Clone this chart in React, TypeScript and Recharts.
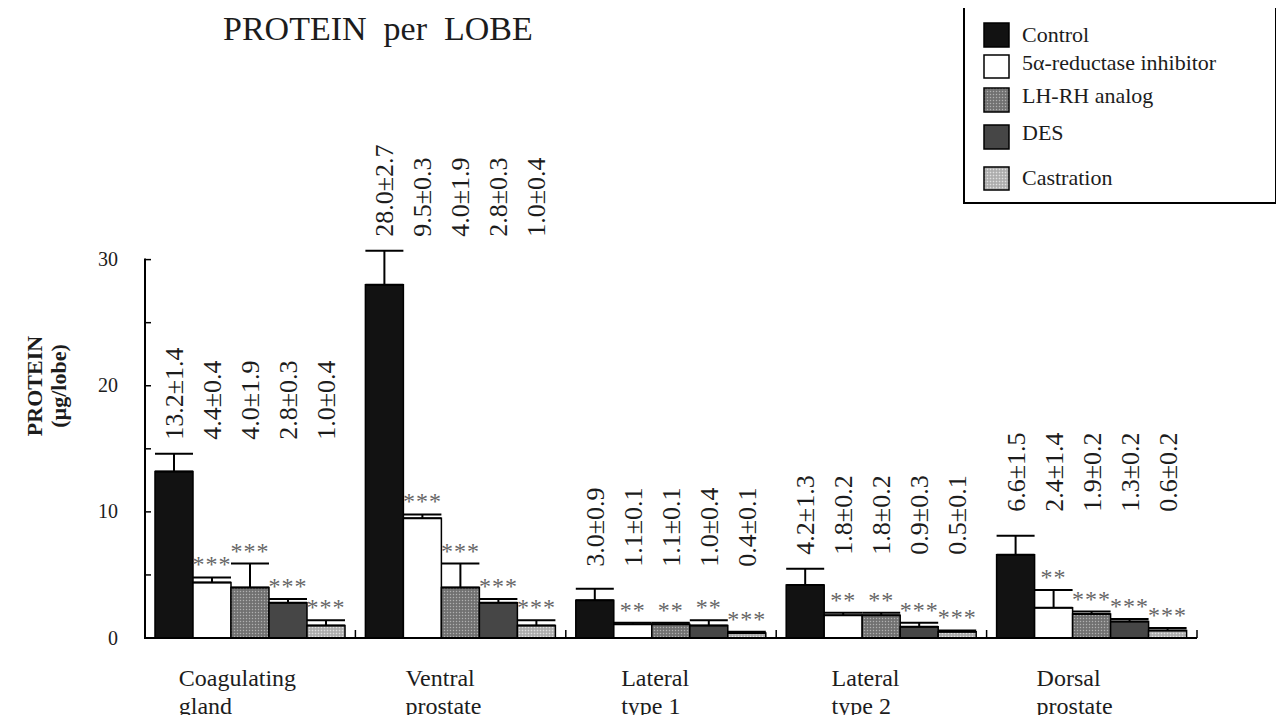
import { BarChart, Bar, XAxis, YAxis, ErrorBar, LabelList } from "recharts";

const LOBES = ["Coagulating gland", "Ventral prostate", "Lateral type 1", "Lateral type 2", "Dorsal prostate"];

const CONTROL = [13.2, 28.0, 3.0, 4.2, 6.6];
const CONTROL_SEM = [1.4, 2.7, 0.9, 1.3, 1.5];
const REDUCTASE = [4.4, 9.5, 1.1, 1.8, 2.4];
const REDUCTASE_SEM = [0.4, 0.3, 0.1, 0.2, 1.4];
const LHRH = [4.0, 4.0, 1.1, 1.8, 1.9];
const LHRH_SEM = [1.9, 1.9, 0.1, 0.2, 0.2];
const DES = [2.8, 2.8, 1.0, 0.9, 1.3];
const DES_SEM = [0.3, 0.3, 0.4, 0.3, 0.2];
const CASTRATION = [1.0, 1.0, 0.4, 0.5, 0.6];
const CASTRATION_SEM = [0.4, 0.4, 0.1, 0.1, 0.2];

// significance vs control
const REDUCTASE_SIG = ["***", "***", "**", "**", "**"];
const LHRH_SIG = ["***", "***", "**", "**", "***"];
const DES_SIG = ["***", "***", "**", "***", "***"];
const CASTRATION_SIG = ["***", "***", "***", "***", "***"];

const Y_TICKS = [0, 5, 10, 15, 20, 25, 30];
const Y_TOP = 31; // room for the ventral control error bar above 30

const FONT = "'Liberation Serif', 'Times New Roman', serif";
const INK = "#1c1c1c";

interface Series {
  key: string;
  name: string;
  values: number[];
  sem: number[];
  sig: string[] | null;
  fill: string;
}

const SERIES: Series[] = [
  { key: "control", name: "Control", values: CONTROL, sem: CONTROL_SEM, sig: null, fill: "#121212" },
  { key: "reductase", name: "5\u03b1-reductase inhibitor", values: REDUCTASE, sem: REDUCTASE_SEM, sig: REDUCTASE_SIG, fill: "#ffffff" },
  { key: "lhrh", name: "LH-RH analog", values: LHRH, sem: LHRH_SEM, sig: LHRH_SIG, fill: "url(#dotsMid)" },
  { key: "des", name: "DES", values: DES, sem: DES_SEM, sig: DES_SIG, fill: "#464646" },
  { key: "castration", name: "Castration", values: CASTRATION, sem: CASTRATION_SEM, sig: CASTRATION_SIG, fill: "url(#dotsLight)" },
];

const data = LOBES.map((lobe, i) => {
  const row: Record<string, any> = { lobe };
  SERIES.forEach((s) => {
    row[s.key] = s.values[i];
    row[s.key + "Err"] = [0, s.sem[i]];
    row[s.key + "Txt"] = `${s.values[i].toFixed(1)}\u00b1${s.sem[i].toFixed(1)}`;
    row[s.key + "Sig"] = s.sig ? s.sig[i] : "";
  });
  return row;
});

// gap (px) between the control error cap and the foot of the printed values
const LABEL_GAP = [14, 14, 22, 14, 24];

function valueLabel(s: Series) {
  return (props: any) => {
    const { x, y, width, height, index, value } = props;
    const px = height / s.values[index];
    const zeroY = y + height;
    const ctrlTop = zeroY - (CONTROL[index] + CONTROL_SEM[index]) * px;
    const baseY = ctrlTop - LABEL_GAP[index];
    const tx = x + width / 2 + 9;
    return (
      <text x={tx} y={baseY} transform={`rotate(-90 ${tx} ${baseY})`} fontFamily={FONT} fontSize={26} fill={INK}>
        {value}
      </text>
    );
  };
}

function sigLabel(s: Series) {
  return (props: any) => {
    const { x, y, width, height, index, value } = props;
    if (!value) return null;
    const px = height / s.values[index];
    const capY = y + height - (s.values[index] + s.sem[index]) * px;
    return (
      <text x={x + width / 2} y={capY - 5} textAnchor="middle" fontFamily={FONT} fontSize={24} fill="#666" letterSpacing={1}>
        {value}
      </text>
    );
  };
}

function LobeTick(props: any) {
  const { x, y, payload } = props;
  const half = payload.offset ?? 105;
  const [first, ...rest] = String(payload.value).split(" ");
  const second = rest.join(" ");
  const w = Math.max(first.length, second.length) * 0.45 * 24;
  const left = x - w / 2 - 12;
  return (
    <g>
      <line x1={x + half} x2={x + half} y1={y} y2={y - 8} stroke="#000" strokeWidth={1.5} />
      <text x={left} y={y + 48} fontFamily={FONT} fontSize={24} fill={INK}>{first}</text>
      <text x={left} y={y + 76} fontFamily={FONT} fontSize={24} fill={INK}>{second}</text>
    </g>
  );
}

// inward ticks; the axis line itself stops at the 30 tick
function ProteinTick(props: any) {
  const { x, y, payload, height } = props;
  const step = ((height ?? 391) / Y_TOP) * 5;
  return (
    <g>
      <line x1={x} x2={x + 6} y1={y} y2={y} stroke="#000" strokeWidth={1.5} />
      {payload.value > 0 && <line x1={x} x2={x} y1={y - 1} y2={y + step + 1} stroke="#000" strokeWidth={2} />}
      {payload.value % 10 === 0 && (
        <text x={x - 27} y={y} dy="0.33em" textAnchor="end" fontFamily={FONT} fontSize={20} fill={INK}>
          {payload.value}
        </text>
      )}
    </g>
  );
}

const LEGEND_ROWS = [
  { y: 19, h: 24, base: 38 },
  { y: 51, h: 23, base: 66 },
  { y: 84, h: 24, base: 99 },
  { y: 121, h: 24, base: 136 },
  { y: 163, h: 23, base: 181 },
];

function LegendBox() {
  return (
    <g transform="translate(963 4)">
      <rect x={1} y={1} width={312} height={198} fill="#fff" stroke="#000" strokeWidth={2} />
      {SERIES.map((s, i) => (
        <g key={s.key}>
          <rect x={21} y={LEGEND_ROWS[i].y} width={25} height={LEGEND_ROWS[i].h} fill={s.fill} stroke="#000" strokeWidth={1.5} />
          <text x={59} y={LEGEND_ROWS[i].base} fontFamily={FONT} fontSize={22} fill={INK}>{s.name}</text>
        </g>
      ))}
    </g>
  );
}

export default function App() {
  return (
    <div style={{ position: "relative", width: 1284, height: 723, margin: -8, background: "#fff" }}>
      <BarChart
        width={1284}
        height={723}
        data={data}
        margin={{ top: 247, right: 87, left: 85, bottom: 5 }}
        barCategoryGap="4.75%"
        barGap={0}
      >
        <defs>
          <pattern id="dotsMid" width={3} height={3} patternUnits="userSpaceOnUse">
            <rect width={3} height={3} fill="#7a7a7a" />
            <rect width={1} height={1} fill="#b0b0b0" />
            <rect x={1.5} y={1.5} width={1} height={1} fill="#555" />
          </pattern>
          <pattern id="dotsLight" width={3} height={3} patternUnits="userSpaceOnUse">
            <rect width={3} height={3} fill="#b9b9b9" />
            <rect width={1} height={1} fill="#e0e0e0" />
            <rect x={1.5} y={1.5} width={1} height={1} fill="#8a8a8a" />
          </pattern>
        </defs>
        <XAxis
          dataKey="lobe"
          height={80}
          axisLine={{ stroke: "#000", strokeWidth: 2 }}
          tickLine={false}
          tickSize={0}
          tickMargin={0}
          interval={0}
          tick={<LobeTick />}
        />
        <YAxis
          width={60}
          domain={[0, Y_TOP]}
          ticks={Y_TICKS}
          interval={0}
          axisLine={false}
          tickLine={false}
          tickSize={0}
          tickMargin={0}
          tick={<ProteinTick />}
        />
        {SERIES.map((s) => (
          <Bar key={s.key} dataKey={s.key} name={s.name} fill={s.fill} stroke="#000" strokeWidth={1.5} isAnimationActive={false}>
            <ErrorBar dataKey={s.key + "Err"} width={19} stroke="#000" strokeWidth={2} direction="y" />
            <LabelList dataKey={s.key + "Txt"} content={valueLabel(s)} />
            {s.sig && <LabelList dataKey={s.key + "Sig"} content={sigLabel(s)} />}
          </Bar>
        ))}
      </BarChart>
      <svg width={1284} height={723} style={{ position: "absolute", left: 0, top: 0, pointerEvents: "none" }}>
        <text x={223} y={40} fontFamily={FONT} fontSize={34} fill={INK} style={{ whiteSpace: "pre" }}>
          {"PROTEIN  per  LOBE"}
        </text>
        <text x={42} y={386} transform="rotate(-90 42 386)" textAnchor="middle" fontFamily={FONT} fontSize={22} fontWeight="bold" fill={INK}>
          PROTEIN
        </text>
        <text x={66} y={386} transform="rotate(-90 66 386)" textAnchor="middle" fontFamily={FONT} fontSize={22} fontWeight="bold" fill={INK}>
          (µg/lobe)
        </text>
        <LegendBox />
      </svg>
    </div>
  );
}
